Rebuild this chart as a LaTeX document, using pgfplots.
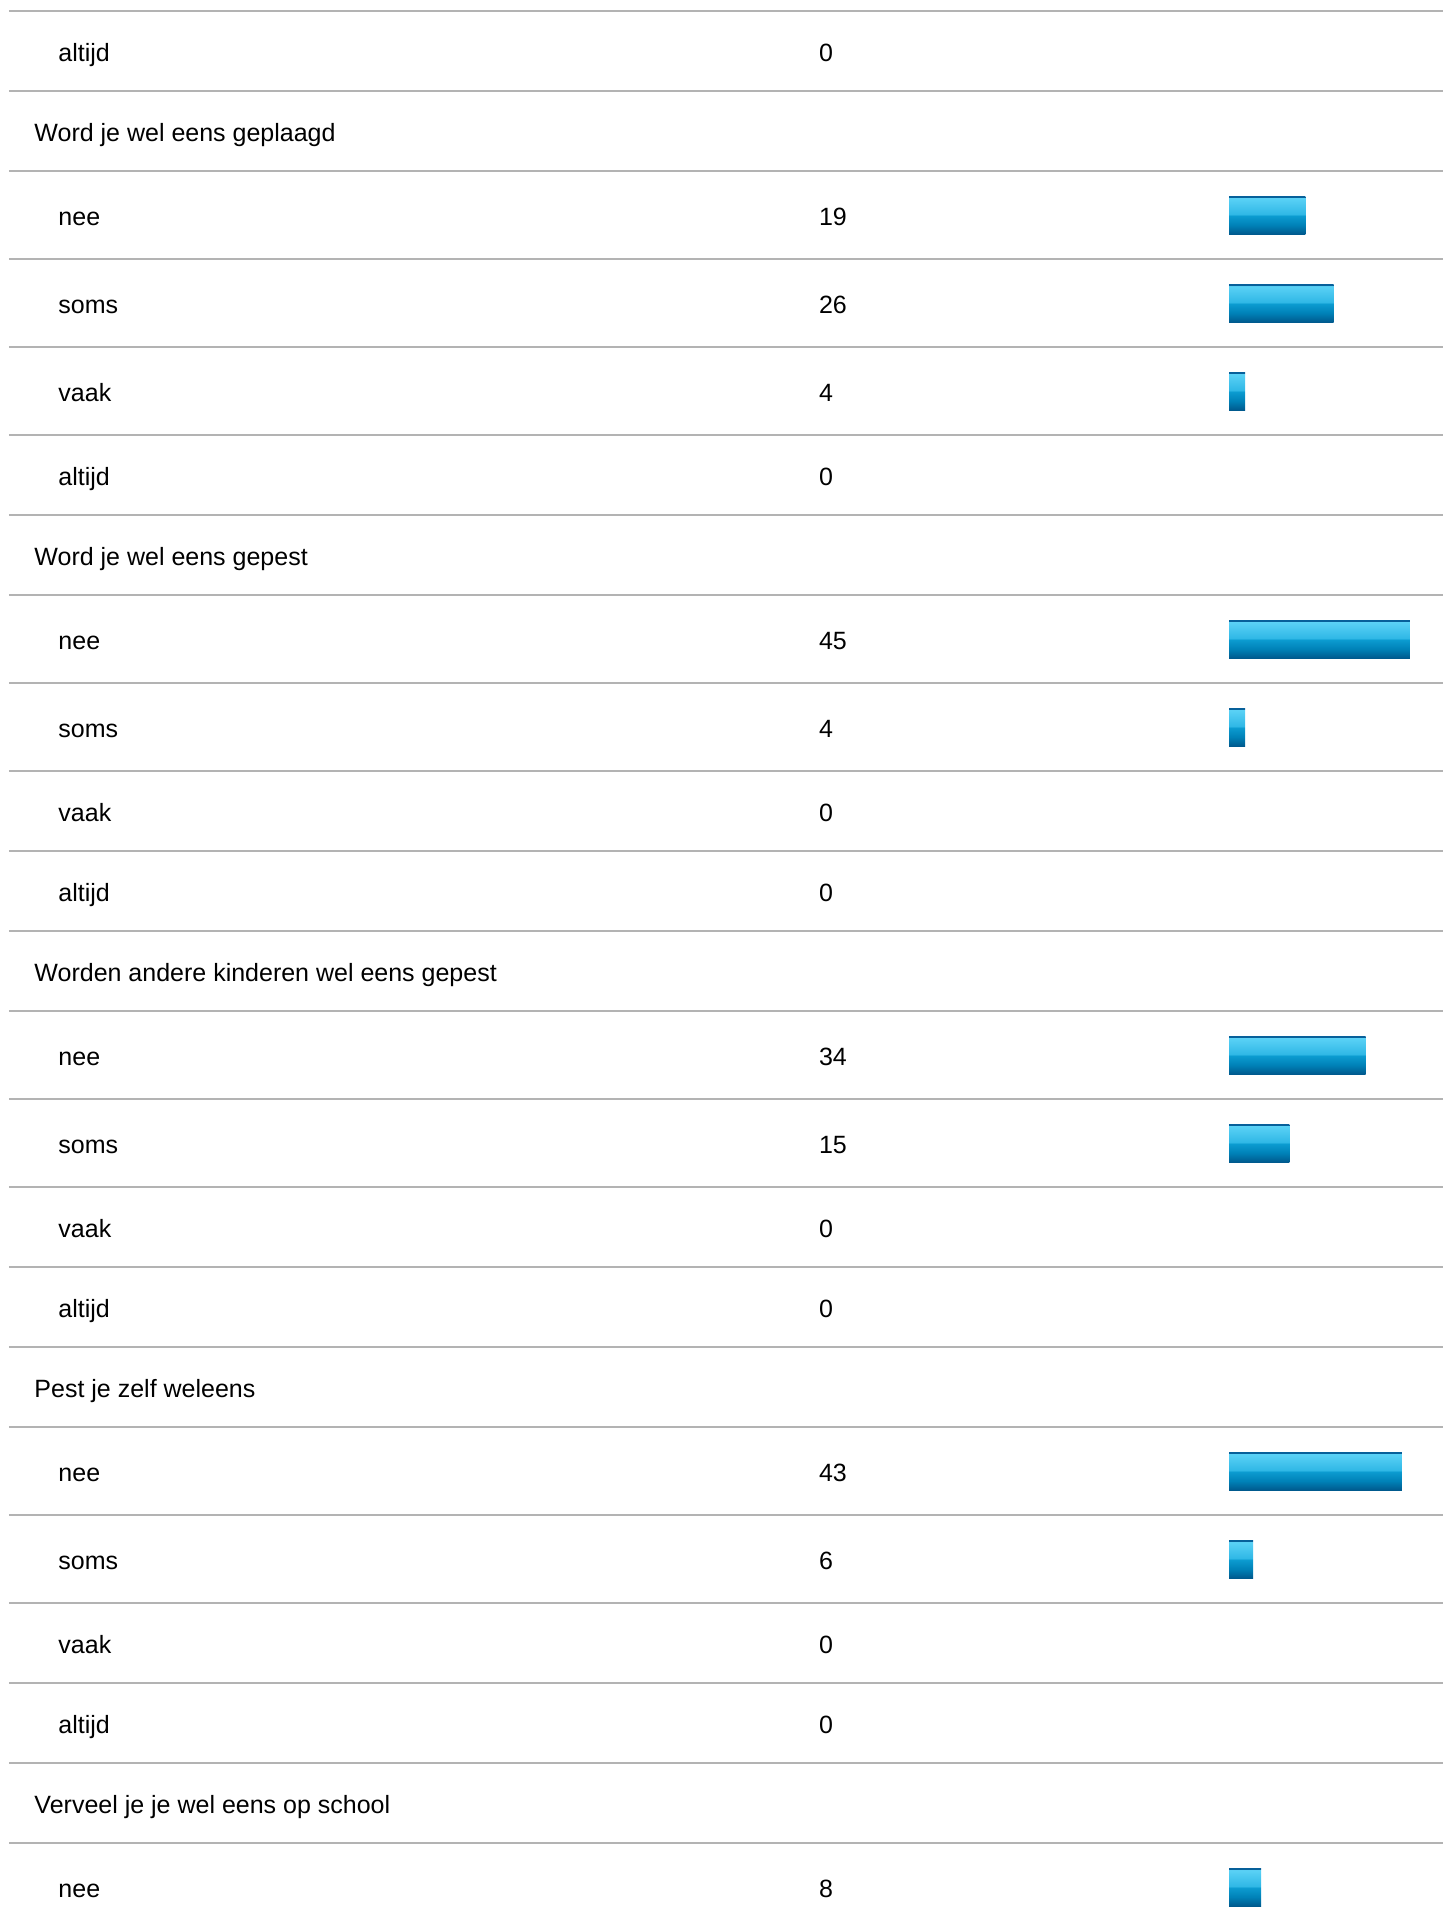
\documentclass[border=0pt]{standalone}
\usepackage{fontspec}
\setmainfont{Liberation Sans}
\usepackage{pgfplots}
\usepackage{pgfplotstable}
\pgfplotsset{compat=1.18}
\definecolor{rule}{HTML}{B3B3B3}
\definecolor{bA}{HTML}{07609A}
\definecolor{bB}{HTML}{5BD2F6}
\definecolor{bC}{HTML}{2FB7E5}
\definecolor{bD}{HTML}{0C9CD1}
\definecolor{bE}{HTML}{0082B8}
\definecolor{bF}{HTML}{005A8E}
\pgfdeclareverticalshading{barshade}{100bp}{%
  color(0bp)=(bF); color(25bp)=(bF); color(37bp)=(bE); color(49.4bp)=(bD);
  color(50.6bp)=(bC); color(72.5bp)=(bB); color(73.3bp)=(bA); color(75bp)=(bA); color(100bp)=(bA)}

% answer rows: y = row centre (pixels from top), label, count
\pgfplotstableread{
y    lab    val
51   altijd 0
215  nee    19
303  soms   26
391  vaak   4
475  altijd 0
639  nee    45
727  soms   4
811  vaak   0
891  altijd 0
1055 nee    34
1143 soms   15
1227 vaak   0
1307 altijd 0
1471 nee    43
1559 soms   6
1643 vaak   0
1723 altijd 0
1887 nee    8
}\answers
% bars (non-zero counts)
\pgfplotstableread{
y    val
215  19
303  26
391  4
639  45
727  4
1055 34
1143 15
1471 43
1559 6
1887 8
}\bars

\begin{document}
\begin{tikzpicture}
\begin{axis}[
  scale only axis,
  width=580.4pt, height=768.4pt,
  xmin=-305.721, xmax=55.224,
  ymin=0, ymax=1921, y dir=reverse,
  hide axis, clip=false,
]
\path (axis cs:-305.721,0) rectangle (axis cs:55.224,1921);
% row rules
\pgfplotsinvokeforeach{11,91,171,259,347,435,515,595,683,771,851,931,1011,1099,1187,1267,1347,1427,1515,1603,1683,1763,1843}{
  \draw[rule, line width=1.1pt] (axis cs:-303.483,#1) -- (axis cs:53.234,#1);
}
% bars
\pgfplotsinvokeforeach{0,...,9}{
  \pgfplotstablegetelem{#1}{y}\of\bars \edef\by{\pgfplotsretval}
  \pgfplotstablegetelem{#1}{val}\of\bars \edef\bv{\pgfplotsretval}
  \edef\temp{\noexpand\addplot[xbar, bar width=38, draw=none, shading=barshade] coordinates {(\bv,\by)};}
  \temp
}
% answer labels
\addplot[only marks, mark=none, point meta=explicit symbolic,
  nodes near coords, nodes near coords align={anchor=base west},
  nodes near coords style={anchor=base west, inner sep=0pt, font=\fontsize{10}{12}\selectfont, text=black}]
  table[x expr=-291.294, y expr=\thisrow{y}+10, meta=lab] {\answers};
% counts
\addplot[only marks, mark=none, point meta=explicit symbolic,
  nodes near coords, nodes near coords align={anchor=base west},
  nodes near coords style={anchor=base west, inner sep=0pt, font=\fontsize{10}{12}\selectfont, text=black}]
  table[x expr=-102.114, y expr=\thisrow{y}+10, meta=val] {\answers};
% question headers
\begin{scope}[every node/.style={anchor=base west, inner sep=0pt, font=\fontsize{10}{12}\selectfont}]
\node at (axis cs:-297.264,141) {Word je wel eens geplaagd};
\node at (axis cs:-297.264,565) {Word je wel eens gepest};
\node at (axis cs:-297.264,981) {Worden andere kinderen wel eens gepest};
\node at (axis cs:-297.264,1397) {Pest je zelf weleens};
\node at (axis cs:-297.264,1813) {Verveel je je wel eens op school};
\end{scope}
\end{axis}
\end{tikzpicture}
\end{document}
